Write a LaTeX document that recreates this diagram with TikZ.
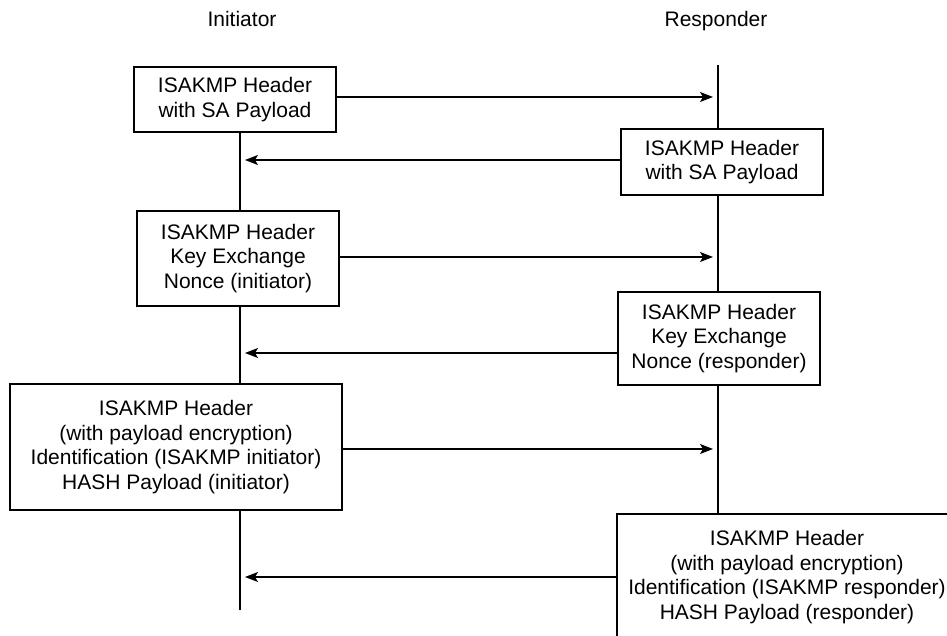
\documentclass[tikz,border=0pt]{standalone}
\usepackage{fontspec}
\setmainfont{Liberation Sans}
\usetikzlibrary{arrows.meta}
\begin{document}
\begin{tikzpicture}[x=1pt,y=-1pt,
  every node/.style={font=\fontsize{21}{24.5}\selectfont},
  msgbox/.style={draw, line width=1.3pt, fill=white, align=center, inner sep=0pt, minimum width=202pt},
  life/.style={line width=1.2pt},
  msg/.style={line width=1.2pt, -{Stealth[length=13pt,width=10pt,inset=3pt]}, shorten >=5pt},
  title/.style={anchor=base}]
\useasboundingbox (0,0) rectangle (947,636);
\begin{scope}
\clip (0,0) rectangle (947,636);
% titles
\node[title] (tI) at (242,27) {Initiator};
\node[title] (tR) at (716,27) {Responder};
% lifelines
\coordinate (itop) at (240,132);
\coordinate (ibot) at (240,610);
\coordinate (rtop) at (718,65);
\coordinate (rbot) at (718,514);
\draw[life] (itop) -- (ibot);
\draw[life] (rtop) -- (rbot);
% boxes
\node[msgbox, minimum height=65pt] (b1) at (235,99.5) {ISAKMP Header\\with SA Payload};
\node[msgbox, minimum height=66pt] (b2) at (722,162) {ISAKMP Header\\with SA Payload};
\node[msgbox, minimum height=95pt] (b3) at (238,258.5) {ISAKMP Header\\Key Exchange\\Nonce (initiator)};
\node[msgbox, minimum height=93pt] (b4) at (719,338.5) {ISAKMP Header\\Key Exchange\\Nonce (responder)};
\node[msgbox, minimum width=332pt, minimum height=126pt] (b5) at (176,447) {ISAKMP Header\\(with payload encryption)\\Identification (ISAKMP initiator)\\HASH Payload (initiator)};
\node[msgbox, minimum width=340pt, minimum height=126pt] (b6) at (787,577) {ISAKMP Header\\(with payload encryption)\\Identification (ISAKMP responder)\\HASH Payload (responder)};
% arrow targets
\coordinate (r1) at (718,97);
\coordinate (i2) at (240,160);
\coordinate (r3) at (718,257);
\coordinate (i4) at (240,353);
\coordinate (r5) at (718,449);
\coordinate (i6) at (240,577);
\draw[msg] (b1.east |- r1) -- (r1);
\draw[msg] (b2.west |- i2) -- (i2);
\draw[msg] (b3.east |- r3) -- (r3);
\draw[msg] (b4.west |- i4) -- (i4);
\draw[msg] (b5.east |- r5) -- (r5);
\draw[msg] (b6.west |- i6) -- (i6);
\end{scope}
\end{tikzpicture}
\end{document}
